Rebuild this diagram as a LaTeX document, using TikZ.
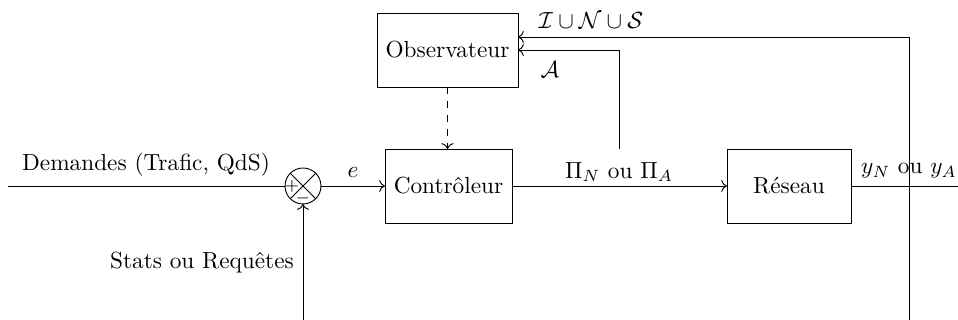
\documentclass[tikz,border=0pt]{standalone}
\usetikzlibrary{arrows.meta}
\begin{document}
\begin{tikzpicture}[x=0.01509cm,y=-0.01509cm,
  blk/.style={draw, rectangle, inner sep=0pt, outer sep=0pt, minimum height=1.117cm},
  sumnode/.style={draw, circle, inner sep=0pt, outer sep=0pt, minimum size=0.543cm},
  sign/.style={font=\scriptsize, inner sep=0pt},
  lbl/.style={inner sep=0pt}]
\useasboundingbox (0,0) rectangle (958,320);
% blocks
\node[blk, minimum width=2.128cm] (obs) at (447.5,50) {Observateur};
\node[blk, minimum width=1.916cm] (ctrl) at (448.5,186) {Contrôleur};
\node[blk, minimum width=1.871cm] (res) at (789,186) {Réseau};
\node[sumnode] (sum) at (303,186) {};
\draw (sum.north west) -- (sum.south east) (sum.north east) -- (sum.south west);
\node[sign] (plus) at (292,186) {$+$};
\node[sign] (minus) at (303,198) {$-$};
% free ends
\coordinate (in) at (8,186);
\coordinate (out) at (958,186);
\coordinate (fb) at (303,320);
\coordinate (obsfb) at (909,320);
\coordinate (br) at (619.5,149);
% connectors
\draw (in) -- (sum.west);
\draw[->] (fb) -- (sum.south);
\draw[->] (sum.east) -- (ctrl.west);
\draw[->] (ctrl.east) -- (res.west);
\draw (res.east) -- (out);
\draw[->] (br) |- (obs.east);
\draw[->] (obsfb) |- ([yshift=0.196cm]obs.east);
\draw[->, dashed] (obs.south) -- (obs.south |- ctrl.north);
% labels
\node[lbl] (ldem) at (146,165) {Demandes (Trafic, QdS)};
\node[lbl] (le) at (353,172) {$e$};
\node[lbl] (lpi) at (619,172) {$\Pi_N$ ou $\Pi_A$};
\node[lbl] (ly) at (909,171) {$y_N$ ou $y_A$};
\node[lbl] (lins) at (591,21) {$\mathcal{I}\cup\mathcal{N}\cup\mathcal{S}$};
\node[lbl] (la) at (550,70) {$\mathcal{A}$};
\node[lbl] (lstats) at (202,263) {Stats ou Requêtes};
\end{tikzpicture}
\end{document}
